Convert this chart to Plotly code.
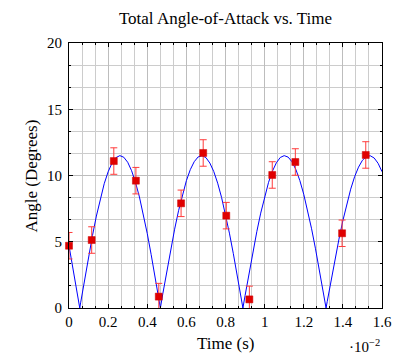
import plotly.graph_objects as go

# Blue curve, x in units of 1e-2 s
curve_x = [0.0, 0.02, 0.04, 0.055, 0.06, 0.08, 0.10, 0.12, 0.14, 0.16, 0.18, 0.20, 0.22, 0.24, 0.26,
           0.28, 0.30, 0.32, 0.34, 0.36, 0.38, 0.40, 0.42, 0.44, 0.46, 0.467, 0.48, 0.50, 0.52,
           0.54, 0.56, 0.58, 0.60, 0.62, 0.64, 0.66, 0.68, 0.70, 0.72, 0.74, 0.76, 0.78, 0.80,
           0.82, 0.84, 0.86, 0.88, 0.889, 0.90, 0.92, 0.94, 0.96, 0.98, 1.00, 1.02, 1.04, 1.06,
           1.08, 1.10, 1.12, 1.14, 1.16, 1.18, 1.20, 1.22, 1.24, 1.26, 1.28, 1.30, 1.314, 1.32,
           1.34, 1.36, 1.38, 1.40, 1.42, 1.44, 1.46, 1.48, 1.50, 1.52, 1.54, 1.56, 1.58, 1.60]
curve_y = [4.70, 3.05, 1.32, 0.0, 0.44, 2.18, 3.87, 5.47, 6.94, 8.25, 9.38, 10.28, 10.94, 11.35, 11.50,
           11.38, 11.00, 10.36, 9.48, 8.38, 7.07, 5.62, 4.03, 2.35, 0.61, 0.0, 1.11, 2.80, 4.42,
           5.95, 7.34, 8.57, 9.61, 10.44, 11.04, 11.40, 11.50, 11.35, 10.94, 10.30, 9.42, 8.34, 7.07,
           5.65, 4.10, 2.46, 0.77, 0.0, 0.93, 2.61, 4.23, 5.76, 7.16, 8.41, 9.48, 10.33, 10.96,
           11.36, 11.50, 11.39, 11.04, 10.44, 9.62, 8.58, 7.36, 5.98, 4.47, 2.86, 1.19, 0.0, 0.49,
           2.11, 3.69, 5.20, 6.60, 7.87, 8.97, 9.91, 10.63, 11.15, 11.43, 11.49, 11.32, 10.92, 10.29]

# Measured points with error bars
meas_x = [0.0, 0.116, 0.229, 0.342, 0.459, 0.573, 0.686, 0.804, 0.922, 1.039, 1.157, 1.396, 1.517]
meas_y = [4.70, 5.13, 11.09, 9.61, 0.86, 7.90, 11.70, 6.97, 0.65, 10.04, 11.02, 5.64, 11.55]
meas_err = [1.0] * 13

FONT = "Liberation Serif"

fig = go.Figure()
fig.add_trace(go.Scatter(x=curve_x, y=curve_y, mode="lines",
                         line=dict(color="#0000ff", width=1), showlegend=False,
                         hoverinfo="skip"))
# error bars (clipped to the plot area)
fig.add_trace(go.Scatter(x=meas_x, y=meas_y, mode="markers",
                         marker=dict(size=1, color="rgba(0,0,0,0)"),
                         error_y=dict(type="data", array=meas_err, visible=True,
                                      color="#ff3b3b", thickness=1, width=3.5),
                         showlegend=False, cliponaxis=True, hoverinfo="skip"))
# markers (not clipped, like pgfplots)
fig.add_trace(go.Scatter(x=meas_x, y=meas_y, mode="markers",
                         marker=dict(symbol="square", size=7, color="#e00000",
                                     line=dict(color="#cc0000", width=0.5)),
                         showlegend=False, cliponaxis=False))

axis_common = dict(
    showline=True, linecolor="black", linewidth=1, mirror="ticks",
    ticks="inside", ticklen=4, tickcolor="black", tickwidth=0.8,
    showgrid=True, gridcolor="#bdbdbd", gridwidth=1, zeroline=False,
    tickfont=dict(family=FONT, size=15, color="black"),
)
fig.update_xaxes(range=[0, 1.6], dtick=0.2, tick0=0,
                 minor=dict(dtick=0.2 / 3, ticks="inside", ticklen=2, tickcolor="black",
                            showgrid=True, gridcolor="#cccccc", gridwidth=1),
                 **axis_common)
fig.update_yaxes(range=[0, 20], dtick=5, tick0=0,
                 minor=dict(dtick=5 / 3, ticks="inside", ticklen=2, tickcolor="black",
                            showgrid=True, gridcolor="#cccccc", gridwidth=1),
                 ticklabelstandoff=3,
                 **axis_common)

fig.update_layout(
    width=404, height=355,
    margin=dict(l=69, r=14, t=43, b=47),
    paper_bgcolor="white", plot_bgcolor="white",
    title=dict(text="Total Angle-of-Attack vs. Time", x=0.5, xanchor="center", xref="paper",
               y=1 - 18 / 355, yanchor="middle", yref="container",
               font=dict(family=FONT, size=17, color="black")),
    annotations=[
        dict(text="Time (s)", xref="paper", yref="paper", x=0.5, y=-35 / 265,
             xanchor="center", yanchor="middle", showarrow=False,
             font=dict(family=FONT, size=17, color="black")),
        dict(text="Angle (Degrees)", xref="paper", yref="paper", x=-38 / 321, y=0.5,
             xanchor="center", yanchor="middle", textangle=-90, showarrow=False,
             font=dict(family=FONT, size=17, color="black")),
        dict(text="·10<sup>−2</sup>", xref="paper", yref="paper", x=1.0, y=-38 / 265,
             xanchor="right", yanchor="middle", showarrow=False,
             font=dict(family=FONT, size=15, color="black")),
    ],
)

fig.write_html("out.html")
